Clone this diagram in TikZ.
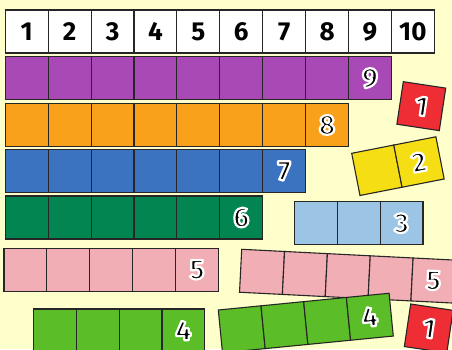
\documentclass[tikz,border=0pt]{standalone}
\usepackage{fontspec}
\setmainfont{Fira Sans}
\definecolor{bg}{RGB}{255,255,204}
\definecolor{cpurple}{RGB}{168,73,181}
\definecolor{corange}{RGB}{249,161,27}
\definecolor{cblue}{RGB}{59,115,193}
\definecolor{cdgreen}{RGB}{3,133,82}
\definecolor{clblue}{RGB}{156,196,228}
\definecolor{cpink}{RGB}{242,174,181}
\definecolor{clime}{RGB}{91,189,39}
\definecolor{cred}{RGB}{238,45,53}
\definecolor{cyellow}{RGB}{245,223,20}
\newcommand\halo[1]{\special{pdf:literal direct 2 Tr 2.2 w 1 1 1 RG 1 j}#1\special{pdf:literal direct 0 Tr}}
\tikzset{
  cell/.style={draw=black!85, line width=1.1pt, minimum width=42.9pt, minimum height=43pt, inner sep=0pt, outer sep=0pt, anchor=north west},
  num/.style={inner sep=0pt, font=\fontsize{28}{28}\selectfont\bfseries, text=black},
  topnum/.style={inner sep=0pt, font=\fontsize{26}{26}\selectfont\bfseries, text=black},
}
\newcommand\strip[7]{%
  \begin{scope}[shift={(#2,#3)}, rotate=#4, transform shape]
    \foreach \i in {1,...,#5}{\node[cell, fill=#6] (#1-\i) at ({(\i-1)*42.9},0) {};}
    \node[num] (#1-n) at ({(#5-0.5)*42.9},-21.5) {\halo{#7}};
  \end{scope}}
\begin{document}
\begin{tikzpicture}[x=1pt,y=1pt]
  \useasboundingbox (0,0) rectangle (452,349);
  \clip (0,0) rectangle (452,349);
  \fill[bg] (0,0) rectangle (452,349);
  % top number line
  \foreach \i in {1,...,10}{
    \node[cell, fill=white] (top-\i) at ({5.3+(\i-1)*42.9},339) {};
    \node[topnum] (toplab-\i) at (top-\i.center) {\i};
  }
  % straight strips
  \strip{nine}{5.3}{292.3}{0}{9}{cpurple}{9}
  \strip{eight}{5.3}{245.5}{0}{8}{corange}{8}
  \strip{seven}{5.3}{199.5}{0}{7}{cblue}{7}
  \strip{six}{5.3}{153}{0}{6}{cdgreen}{6}
  \strip{three}{294.3}{147.3}{0}{3}{clblue}{3}
  \strip{fiveA}{4}{100.7}{0}{5}{cpink}{5}
  \strip{fourA}{33.3}{40}{0}{4}{clime}{4}
  % rotated pieces
  \strip{fiveB}{241.7}{99.7}{-2.9}{5}{cpink}{5}
  \strip{fourB}{218.3}{39}{5.6}{4}{clime}{4}
  \strip{oneA}{403.3}{267.3}{-8.6}{1}{cred}{1}
  \strip{two}{351.7}{195.7}{11.1}{2}{cyellow}{2}
  \strip{oneB}{410.7}{45}{-8.5}{1}{cred}{1}
\end{tikzpicture}
\end{document}
